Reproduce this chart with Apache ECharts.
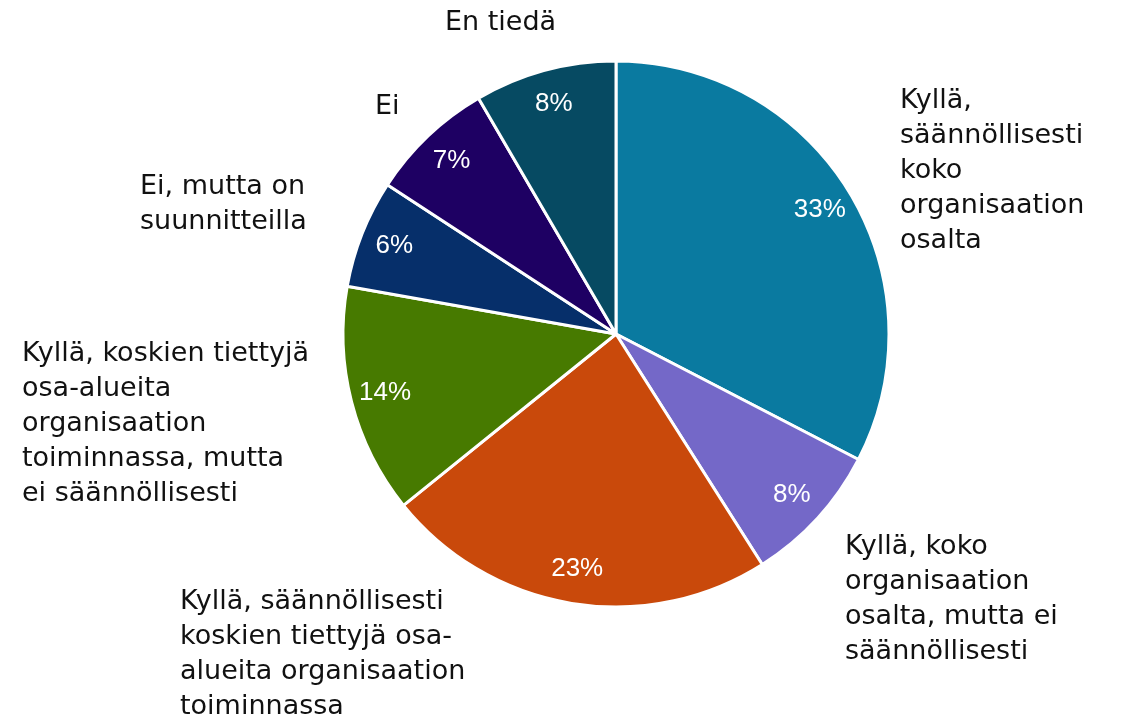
<!DOCTYPE html>
<html>
<head>
<meta charset="utf-8">
<script src="https://cdn.jsdelivr.net/npm/echarts@6/dist/echarts.min.js"></script>
<style>
  html, body { margin: 0; padding: 0; background: #fff; }
  #chart { width: 1132px; height: 715px; }
</style>
</head>
<body>
<div id="chart"></div>
<script>
const categories = [
  'Kyllä,\nsäännöllisesti\nkoko\norganisaation\nosalta',
  'Kyllä, koko\norganisaation\nosalta, mutta ei\nsäännöllisesti',
  'Kyllä, säännöllisesti\nkoskien tiettyjä osa-\nalueita organisaation\ntoiminnassa',
  'Kyllä, koskien tiettyjä\nosa-alueita\norganisaation\ntoiminnassa, mutta\nei säännöllisesti',
  'Ei, mutta on\nsuunnitteilla',
  'Ei',
  'En tiedä'
]
const shares = [32.6, 8.4, 23.2, 13.6, 6.4, 7.4, 8.4]
const colors = ['#0A7AA0', '#7468C8', '#C9490B', '#477A00', '#062F6A', '#1E0063', '#064A62']

// where each category text block starts (left, top)
const labelPos = [
  [900, 83], [845, 529], [180, 584], [22, 336], [140, 169], [375, 89], [445, 5]
]

const center = [616, 334]
const chart = echarts.init(document.getElementById('chart'))

const pieData = categories.map((name, i) => ({
  name,
  value: shares[i],
  itemStyle: { color: colors[i] }
}))

chart.setOption({
  animation: false,
  series: [
    {
      type: 'pie',
      center,
      radius: [0, 273],
      startAngle: 90,
      clockwise: true,
      itemStyle: { borderColor: '#fff', borderWidth: 3 },
      label: {
        show: true,
        position: 'outside',
        formatter: '{b}',
        color: '#111',
        fontFamily: 'DejaVu Sans',
        fontSize: 27,
        lineHeight: 35,
        overflow: 'none'
      },
      labelLine: { show: false },
      labelLayout: (params) => {
        const p = labelPos[params.dataIndex]
        return { x: p[0], y: p[1], align: 'left', verticalAlign: 'top' }
      },
      data: pieData
    },
    {
      type: 'pie',
      center,
      radius: [198, 273],
      startAngle: 90,
      clockwise: true,
      silent: true,
      itemStyle: { color: 'transparent' },
      label: {
        show: true,
        position: 'inside',
        formatter: (p) => Math.round(p.value) + '%',
        color: '#fff',
        fontFamily: 'Liberation Sans',
        fontSize: 26
      },
      labelLine: { show: false },
      data: shares.map((v, i) => ({ name: 'p' + i, value: v }))
    }
  ]
})
</script>
</body>
</html>
